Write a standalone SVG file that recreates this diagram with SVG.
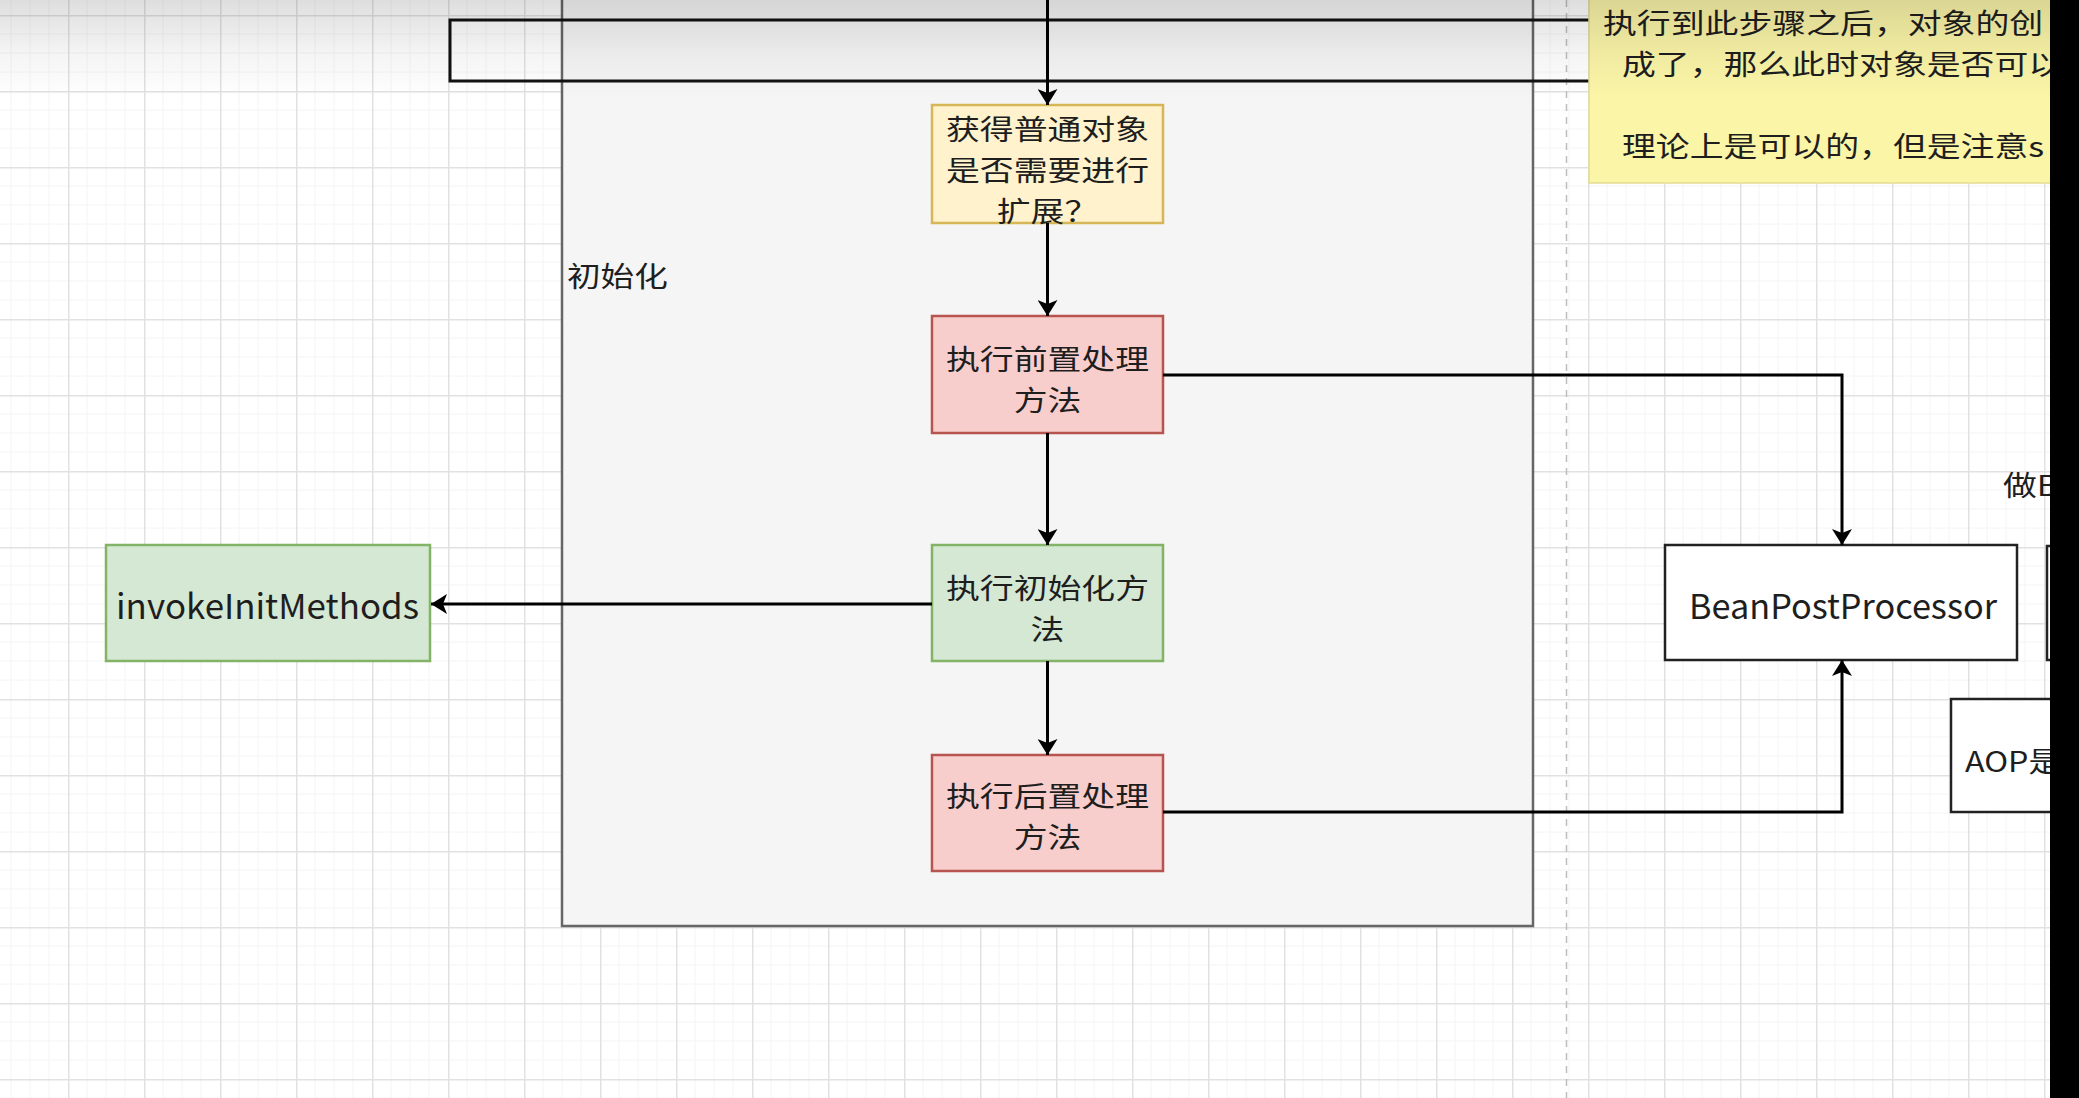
<svg xmlns="http://www.w3.org/2000/svg" width="2079" height="1098" viewBox="0 0 2079 1098">
  <defs>
    <pattern id="grid" x="68" y="15" width="76" height="76" patternUnits="userSpaceOnUse">
      <path d="M19,0 V76 M38,0 V76 M57,0 V76 M0,19 H76 M0,38 H76 M0,57 H76" stroke="#f4f4f4" stroke-width="1" fill="none"/>
      <path d="M0.75,0 V76 M0,0.75 H76" stroke="#e1e1e1" stroke-width="1.5" fill="none"/>
    </pattern>
    <linearGradient id="topShade" x1="0" y1="0" x2="0" y2="1">
      <stop offset="0" stop-color="#000" stop-opacity="0.13"/>
      <stop offset="0.55" stop-color="#000" stop-opacity="0.04"/>
      <stop offset="1" stop-color="#000" stop-opacity="0"/>
    </linearGradient>
    <marker id="arrow" viewBox="0 0 16 20" refX="16" refY="10" markerWidth="16" markerHeight="20" markerUnits="userSpaceOnUse" orient="auto">
      <path d="M0,0 L16,10 L0,20 L4,10 Z" fill="#000"/>
    </marker>
    <style>
      .t { font-family: "Noto Sans CJK SC", "Noto Sans", sans-serif; font-size: 28px; fill: #1e1e1e; }
      .l { font-size: 34px; }
      .c { text-anchor: middle; }
      .node { stroke-width: 2.5; }
      .yellow { fill: #fff2cc; stroke: #d6b656; }
      .red { fill: #f8cecc; stroke: #b85450; }
      .green { fill: #d5e8d4; stroke: #82b366; }
      .white { fill: #ffffff; stroke: #222; }
      .edge { fill: none; stroke: #000; stroke-width: 3; }
    </style>
  </defs>

  <rect x="0" y="0" width="2079" height="1098" fill="#ffffff"/>
  <rect x="0" y="0" width="2079" height="1098" fill="url(#grid)"/>
  <line x1="1566.5" y1="0" x2="1566.5" y2="1098" stroke="#bdbdbd" stroke-width="1.5" stroke-dasharray="7 6"/>

  <g id="container-init">
    <rect x="562" y="-10" width="971" height="936" fill="#f5f5f5" stroke="#666" stroke-width="2.5"/>
    <text class="t" transform="translate(567,0) scale(1.2,1)" x="0" y="287">初始化</text>
  </g>

  <g id="top-frame">
    <rect x="450" y="20" width="1300" height="61" fill="none" stroke="#111" stroke-width="3"/>
  </g>

  <g id="node-get-object">
    <rect class="node yellow" x="932" y="105" width="231" height="118"/>
    <text class="t c" transform="translate(1047.5,0) scale(1.21,1)" x="0" y="140"><tspan x="0" y="140">获得普通对象</tspan><tspan x="0" y="181">是否需要进行</tspan><tspan x="0" y="222">扩展？</tspan></text>
  </g>

  <g id="node-before">
    <rect class="node red" x="932" y="316" width="231" height="117"/>
    <text class="t c" transform="translate(1047.5,0) scale(1.21,1)" x="0" y="370"><tspan x="0" y="370">执行前置处理</tspan><tspan x="0" y="411">方法</tspan></text>
  </g>

  <g id="node-init">
    <rect class="node green" x="932" y="545" width="231" height="116"/>
    <text class="t c" transform="translate(1047.5,0) scale(1.21,1)" x="0" y="599"><tspan x="0" y="599">执行初始化方</tspan><tspan x="0" y="640">法</tspan></text>
  </g>

  <g id="node-after">
    <rect class="node red" x="932" y="755" width="231" height="116"/>
    <text class="t c" transform="translate(1047.5,0) scale(1.21,1)" x="0" y="807"><tspan x="0" y="807">执行后置处理</tspan><tspan x="0" y="848">方法</tspan></text>
  </g>

  <g id="node-invoke">
    <rect class="node green" x="106" y="545" width="324" height="116"/>
    <text class="t l" x="116" y="619" textLength="303" lengthAdjust="spacingAndGlyphs">invokeInitMethods</text>
  </g>

  <g id="node-bpp">
    <rect class="node white" x="1665" y="545" width="352" height="115"/>
    <text class="t l" x="1689" y="619" textLength="308" lengthAdjust="spacingAndGlyphs">BeanPostProcessor</text>
  </g>

  <g id="node-right-partial">
    <rect class="node white" x="2047" y="546" width="120" height="114"/>
  </g>

  <g id="node-aop">
    <rect class="node white" x="1951" y="699" width="200" height="113"/>
    <text class="t" transform="translate(1965,0) scale(1.15,1)" x="0" y="772">AOP是</text>
  </g>

  <g id="label-zuo">
    <text class="t" transform="translate(2003,0) scale(1.21,1)" x="0" y="496">做B</text>
  </g>

  <g id="connectors">
    <path class="edge" d="M1047.5,0 V105" marker-end="url(#arrow)"/>
    <path class="edge" d="M1047.5,223 V316" marker-end="url(#arrow)"/>
    <path class="edge" d="M1047.5,433 V545" marker-end="url(#arrow)"/>
    <path class="edge" d="M1047.5,661 V755" marker-end="url(#arrow)"/>
    <path class="edge" d="M932,604 H431" marker-end="url(#arrow)"/>
    <path class="edge" d="M1163,375 H1842 V545" marker-end="url(#arrow)"/>
    <path class="edge" d="M1163,812 H1842 V660" marker-end="url(#arrow)"/>
  </g>

  <g id="note">
    <rect x="1589" y="-10" width="500" height="193" fill="#fbf5a8" stroke="#e3dc92" stroke-width="1.5"/>
    <text class="t" transform="translate(1603,0) scale(1.21,1)" x="0" y="34"><tspan x="0" y="34">执行到此步骤之后，对象的创</tspan><tspan x="15.7" y="75">成了，那么此时对象是否可以</tspan><tspan x="15.7" y="157">理论上是可以的，但是注意s</tspan></text>
  </g>

  <rect x="0" y="0" width="2050" height="100" fill="url(#topShade)"/>
  <rect x="2050" y="0" width="29" height="1098" fill="#000"/>
</svg>
